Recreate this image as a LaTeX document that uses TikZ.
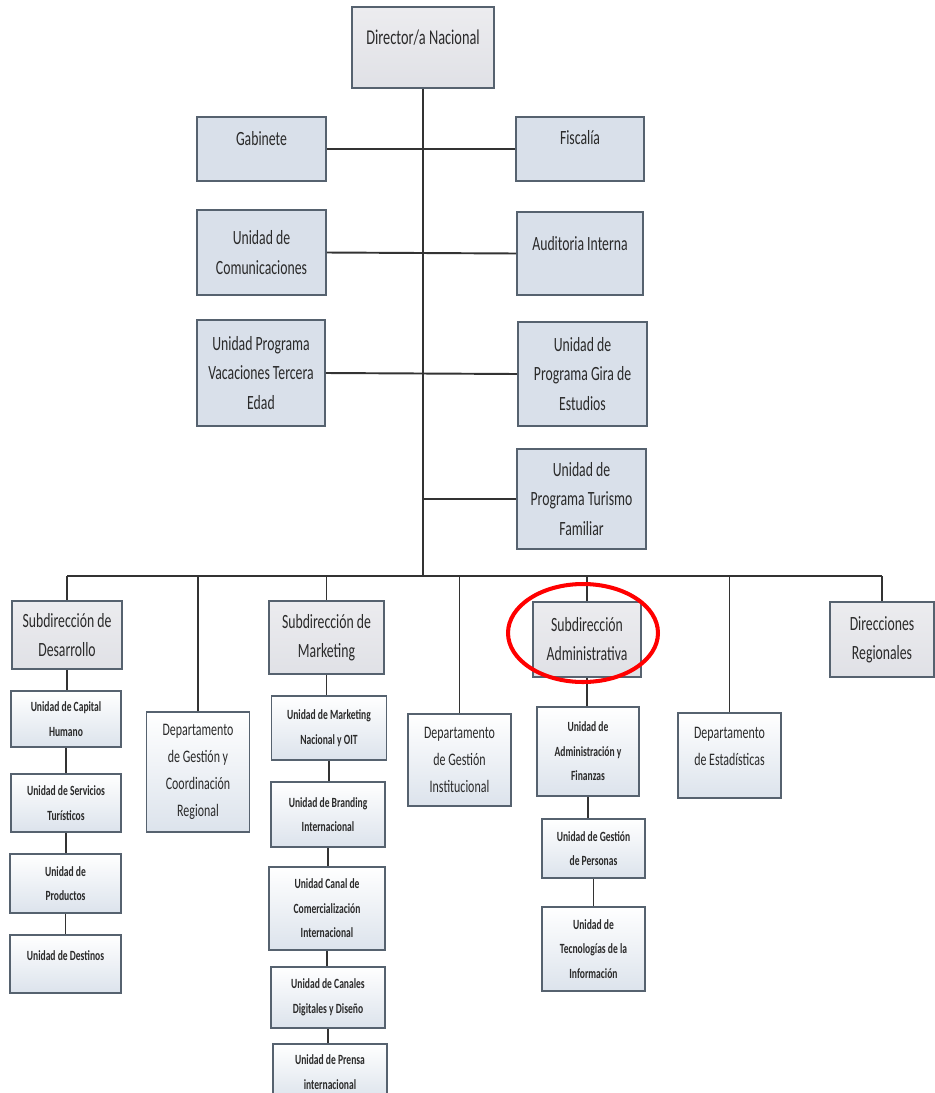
\documentclass[tikz,border=0pt]{standalone}
\usepackage{fontspec}
\newfontfamily\orgfont[FakeStretch=0.68]{Carlito}
\definecolor{boxline}{HTML}{56626F}
\definecolor{topfill}{HTML}{D9E0EA}
\definecolor{subtop}{HTML}{ECECEF}
\definecolor{subbot}{HTML}{E0E1E6}
\definecolor{unitbot}{HTML}{DCE3EC}
\definecolor{linegray}{HTML}{333333}
\definecolor{txtgray}{HTML}{2A2A2A}

\begin{document}
\begin{tikzpicture}[x=0.02cm, y=-0.02cm,
    every node/.style={align=center, text=txtgray, inner sep=1pt},
    sz/.style 2 args={minimum width=#1*0.02cm, minimum height=#2*0.02cm},
    topbox/.style={draw=boxline, line width=1pt, fill=topfill, font=\orgfont\fontsize{11.5}{16.8}\selectfont},
    headbox/.style={draw=boxline, line width=1pt, top color=subtop, bottom color=subbot, font=\orgfont\fontsize{11.5}{16.5}\selectfont},
    deptbox/.style={draw=boxline, line width=1pt, top color=white, bottom color=unitbot, font=\orgfont\fontsize{10}{15.3}\selectfont},
    unitbox/.style={draw=boxline, line width=1pt, top color=white, bottom color=unitbot, font=\orgfont\bfseries\fontsize{8}{14}\selectfont},
    link/.style={draw=linegray, line width=1.1pt},
    hilite/.style={draw=red, line width=2.3pt}]
  \clip (0,0) rectangle (935,1093);
  \fill[white] (0,0) rectangle (935,1093);

  \node[headbox, sz={142}{81}, font=\orgfont\fontsize{12}{16}\selectfont, text depth=11.5pt] (dir) at (423,47.5) {Director/a Nacional};
  \node[topbox, sz={129}{64}, text depth=11.5pt] (gab) at (261.5,149) {Gabinete};
  \node[topbox, sz={128}{64}, text depth=13pt] (fis) at (580,149) {Fiscalía};
  \node[topbox, sz={129}{85}] (com) at (261.5,252.5) {Unidad de\\Comunicaciones};
  \node[topbox, sz={126}{83}, text depth=11.5pt] (aud) at (580,253.5) {Auditoria Interna};
  \node[topbox, sz={128}{106}] (vac) at (261,373) {Unidad Programa\\Vacaciones Tercera\\Edad};
  \node[topbox, sz={129}{104}] (gir) at (582.5,374) {Unidad de\\Programa Gira de\\Estudios};
  \node[topbox, sz={129}{100}] (tur) at (581.5,499) {Unidad de\\Programa Turismo\\Familiar};

  \node[headbox, sz={110}{68}] (des) at (67,635) {Subdirección de\\Desarrollo};
  \node[unitbox, sz={110}{56}] (cap) at (66,719) {Unidad de Capital\\Humano};
  \node[unitbox, sz={110}{58}] (ser) at (66,803) {Unidad de Servicios\\Turísticos};
  \node[unitbox, sz={111}{59}] (pro) at (65.5,883.5) {Unidad de\\Productos};
  \node[unitbox, sz={111}{58}, text depth=10pt] (dst) at (65.5,964) {Unidad de Destinos};

  \node[deptbox, sz={103}{120}] (coo) at (198,772) {Departamento\\de Gestión y\\Coordinación\\Regional};

  \node[headbox, sz={115}{73}] (mkt) at (326.5,637.5) {Subdirección de\\Marketing};
  \node[unitbox, sz={115}{64}] (mkn) at (329,728) {Unidad de Marketing\\Nacional y OIT};
  \node[unitbox, sz={114}{65}] (bra) at (328,814.5) {Unidad de Branding\\Internacional};
  \node[unitbox, sz={116}{83}] (can) at (327,908.5) {Unidad Canal de\\Comercialización\\Internacional};
  \node[unitbox, sz={114}{61}] (dig) at (328,997.5) {Unidad de Canales\\Digitales y Diseño};
  \node[unitbox, sz={114}{56}] (pre) at (330,1072) {Unidad de Prensa\\internacional};

  \node[deptbox, sz={103}{92}] (ins) at (459.5,760) {Departamento\\de Gestión\\Institucional};

  \node[headbox, sz={108}{75}] (adm) at (587,639.5) {Subdirección\\Administrativa};
  \node[unitbox, sz={102}{89}] (fin) at (588,751.5) {Unidad de\\Administración y\\Finanzas};
  \node[unitbox, sz={103}{59}] (per) at (593.5,848.5) {Unidad de Gestión\\de Personas};
  \node[unitbox, sz={103}{84}] (tec) at (593.5,949) {Unidad de\\Tecnologías de la\\Información};

  \node[deptbox, sz={103}{85}, text depth=10pt] (est) at (729.5,755.5) {Departamento\\de Estadísticas};
  \node[headbox, sz={104}{75}] (reg) at (882,639.5) {Direcciones\\Regionales};

  \coordinate (bus) at (423,576);
  \draw[link] (dir.south) -- (dir.south |- bus);
  \draw[link] (gab.east) -- (fis.west);
  \draw[link] (com.east) -- (aud.west);
  \draw[link] (vac.east) -- (gir.west);
  \draw[link] (dir.south |- tur.west) -- (tur.west);
  \draw[link] (des.north |- bus) -- (reg.north |- bus);
  \foreach \n in {des,coo,mkt,ins,adm,est,reg}
    \draw[link] (\n.north |- bus) -- (\n.north);
  \foreach \a/\b in {des/cap,cap/ser,ser/pro,pro/dst,mkt/mkn,mkn/bra,bra/can,can/dig,dig/pre,adm/fin,fin/per,per/tec}
    \draw[link] (\a.south) -- (\a.south |- \b.north);

  \draw[hilite] ([shift={(-4,-6.5)}]adm.center) ellipse [x radius=1.5cm, y radius=0.98cm];
\end{tikzpicture}
\end{document}
